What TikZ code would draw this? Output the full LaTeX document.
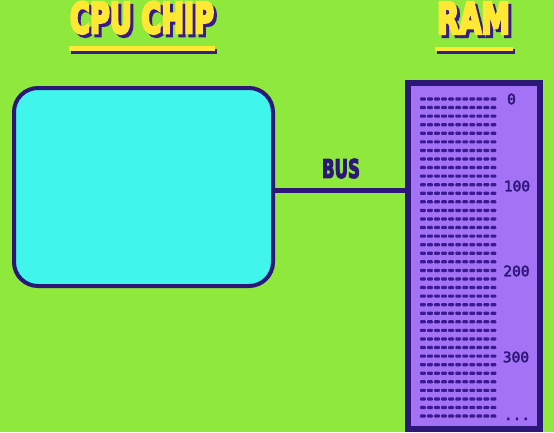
\documentclass[tikz,border=0pt]{standalone}
\usepackage{fontspec}
\usepackage{graphicx}
\newfontfamily\titlefont{DejaVu Sans}[BoldFont={DejaVu Sans Bold}]
\newfontfamily\monofont{DejaVu Sans Mono}
\definecolor{bggreen}{HTML}{8FE83C}
\definecolor{chipcyan}{HTML}{40F5EC}
\definecolor{darkpurple}{HTML}{2C1678}
\definecolor{shadowpurple}{HTML}{3A1A8A}
\definecolor{rampurple}{HTML}{A472F4}
\definecolor{dashpurple}{HTML}{3A1A90}
\definecolor{titleyellow}{HTML}{FFE834}
\newcommand{\heavy}[2]{\special{pdf:literal direct 2 Tr #1 w}#2\special{pdf:literal direct 0 Tr}}
\newcommand{\shadowtitle}[3]{%
  \makebox[0pt][l]{\hspace{3pt}\raisebox{-3pt}{\textcolor{shadowpurple}{\resizebox{#1}{#2}{\titlefont\bfseries\heavy{0.75}{#3}}}}}%
  \textcolor{titleyellow}{\resizebox{#1}{#2}{\titlefont\bfseries\heavy{0.75}{#3}}}}
\tikzset{
  titletext/.style={inner sep=0pt, outer sep=0pt, anchor=south west},
  cpubox/.style={draw=darkpurple, line width=4pt, fill=chipcyan, rounded corners=24pt,
    minimum width=259pt, minimum height=198pt, inner sep=0pt},
  rambox/.style={draw=darkpurple, line width=6pt, fill=rampurple,
    minimum width=132pt, minimum height=346pt, inner sep=0pt},
  busline/.style={draw=darkpurple, line width=5pt},
  addr/.style={inner sep=0pt, text=darkpurple, font=\monofont\fontsize{14.5}{15}\selectfont},
  cell/.style={fill=dashpurple, rounded corners=0.9pt},
}
\begin{document}
\begin{tikzpicture}[x=1pt,y=-1pt]
\useasboundingbox (0,0) rectangle (554,432);
\fill[bggreen] (0,0) rectangle (554,432);

% titles
\node[titletext] (cputitle) at (70,36.5) {\shadowtitle{144pt}{31pt}{CPU CHIP}};
\fill[shadowpurple] (71,49) rectangle (217,54);
\fill[titleyellow] (69,46) rectangle (215,51);

\node[titletext] (ramtitle) at (437,36.5) {\shadowtitle{73pt}{31pt}{RAM}};
\fill[shadowpurple] (437,49) rectangle (515,54);
\fill[titleyellow] (435,46.5) rectangle (513,51);

% boxes
\node[cpubox] (cpu) at (143.5,187) {};
\node[rambox] (ram) at (474,256) {};

% bus
\draw[busline] ([yshift=-3.5pt]cpu.east) -- ([yshift=-3.5pt]cpu.east -| ram.west);
\node[inner sep=0pt, text=darkpurple] (buslabel) at (341,168.5) {\resizebox{38pt}{19pt}{\titlefont\bfseries\heavy{0.5}{BUS}}};

% memory cells
\foreach \i in {0,...,37}{
  \foreach \j in {0,...,10}{
    \fill[cell] ({420+7.05*\j},{97.4+8.57*\i}) rectangle ++(5.8,3.2);
  }
}

% addresses
\node[addr] (a0) at (511.5,99) {\heavy{0.35}{0}};
\node[addr] (a100) at (517,186) {\heavy{0.35}{100}};
\node[addr] (a200) at (516.5,271) {\heavy{0.35}{200}};
\node[addr] (a300) at (516,357) {\heavy{0.35}{300}};
\node[addr, anchor=base] (adots) at (517,420) {\heavy{0.35}{...}};
\end{tikzpicture}
\end{document}
